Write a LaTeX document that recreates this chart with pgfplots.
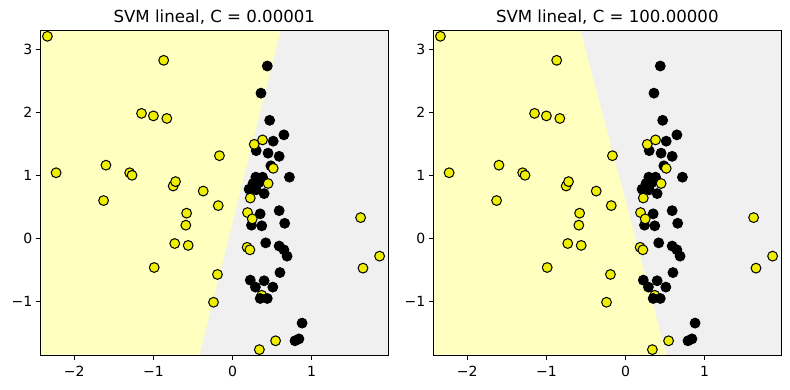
\documentclass[border=0pt]{standalone}
\usepackage{pgfplots}
\pgfplotsset{compat=1.18}
\usepackage{pgfplotstable}
\usepackage{fontspec}
\setmainfont{DejaVu Sans}
\definecolor{bgy}{RGB}{255,255,191}
\definecolor{bgg}{RGB}{240,240,240}
\definecolor{pty}{RGB}{238,238,0}

\pgfplotstableread{
x y
-2.34 3.20
-2.23 1.04
-0.87 2.82
-1.15 1.98
-1.00 1.94
-0.83 1.90
-1.60 1.16
-1.30 1.04
-1.27 1.00
-1.63 0.60
-0.75 0.83
-0.72 0.90
-0.37 0.75
-0.165 1.31
-0.18 0.52
-0.58 0.40
-0.59 0.21
-0.73 -0.08
-0.56 -0.11
-0.99 -0.46
-0.19 -0.57
-0.24 -1.01
0.275 1.49
0.38 1.56
0.515 1.11
0.45 0.87
0.225 0.64
0.19 0.41
0.25 0.31
0.185 -0.14
0.22 -0.18
0.545 -1.62
0.34 -1.76
1.62 0.33
1.86 -0.28
1.65 -0.47
}\yellowpts

\pgfplotstableread{
x y
0.37 -0.90
}\hiddenpts

\pgfplotstableread{
x y
0.44 2.73
0.36 2.30
0.47 1.87
0.65 1.64
0.515 1.54
0.30 1.39
0.45 1.35
0.59 1.30
0.485 1.15
0.72 0.97
0.295 0.97
0.38 0.97
0.26 0.87
0.33 0.88
0.21 0.78
0.30 0.77
0.40 0.71
0.35 0.39
0.59 0.44
0.24 0.21
0.37 0.20
0.66 0.24
0.42 -0.07
0.59 -0.12
0.65 -0.18
0.69 -0.28
0.60 -0.54
0.225 -0.66
0.40 -0.67
0.29 -0.77
0.51 -0.77
0.35 -0.95
0.44 -0.95
0.88 -1.34
0.79 -1.62
0.84 -1.59
}\blackpts

\pgfplotsset{
  svmaxis/.style={
    anchor=south west,
    width=348pt, height=325.7pt, scale only axis,
    xmin=-2.43, xmax=1.97, ymin=-1.856, ymax=3.30,
    axis on top,
    xtick={-2,-1,0,1}, xticklabels={−2,−1,0,1},
    ytick={-1,0,1,2,3}, yticklabels={−1,0,1,2,3},
    tick align=outside, tick pos=left,
    major tick length=4.5pt,
    every tick/.style={black, line width=0.8pt},
    axis line style={line width=0.8pt},
    ticklabel style={font=\fontsize{14}{16}\selectfont},
    xticklabel style={anchor=base, yshift=-16.8pt},
    title style={font=\fontsize{16.6}{19}\selectfont, anchor=base, yshift=1.5pt},
  },
  ymark/.style={only marks, mark=*, mark size=4.9pt, mark options={fill=pty, draw=black, line width=1pt}},
  bmark/.style={only marks, mark=*, mark size=4.9pt, mark options={fill=black, draw=black, line width=1pt}},
}

\begin{document}
\begin{tikzpicture}[x=1pt,y=1pt]
\path[use as bounding box] (0,0) rectangle (790,390);
\begin{axis}[svmaxis, at={(40.3pt,34.3pt)}, title={SVM lineal, C = 0.00001}]
\addplot[fill=bgg, draw=none] coordinates {(-2.43,-1.856) (1.97,-1.856) (1.97,3.30) (-2.43,3.30)} -- cycle;
\addplot[fill=bgy, draw=none] coordinates {(-2.43,-1.856) (-0.42,-1.856) (0.61,3.30) (-2.43,3.30)} -- cycle;
\addplot[ymark] table {\hiddenpts};
\addplot[bmark] table {\blackpts};
\addplot[ymark] table {\yellowpts};
\end{axis}
\begin{axis}[svmaxis, at={(433.3pt,34.3pt)}, title={SVM lineal, C = 100.00000}]
\addplot[fill=bgg, draw=none] coordinates {(-2.43,-1.856) (1.97,-1.856) (1.97,3.30) (-2.43,3.30)} -- cycle;
\addplot[fill=bgy, draw=none] coordinates {(-2.43,-1.856) (0.52,-1.856) (-0.57,3.30) (-2.43,3.30)} -- cycle;
\addplot[ymark] table {\hiddenpts};
\addplot[bmark] table {\blackpts};
\addplot[ymark] table {\yellowpts};
\end{axis}
\end{tikzpicture}
\end{document}
